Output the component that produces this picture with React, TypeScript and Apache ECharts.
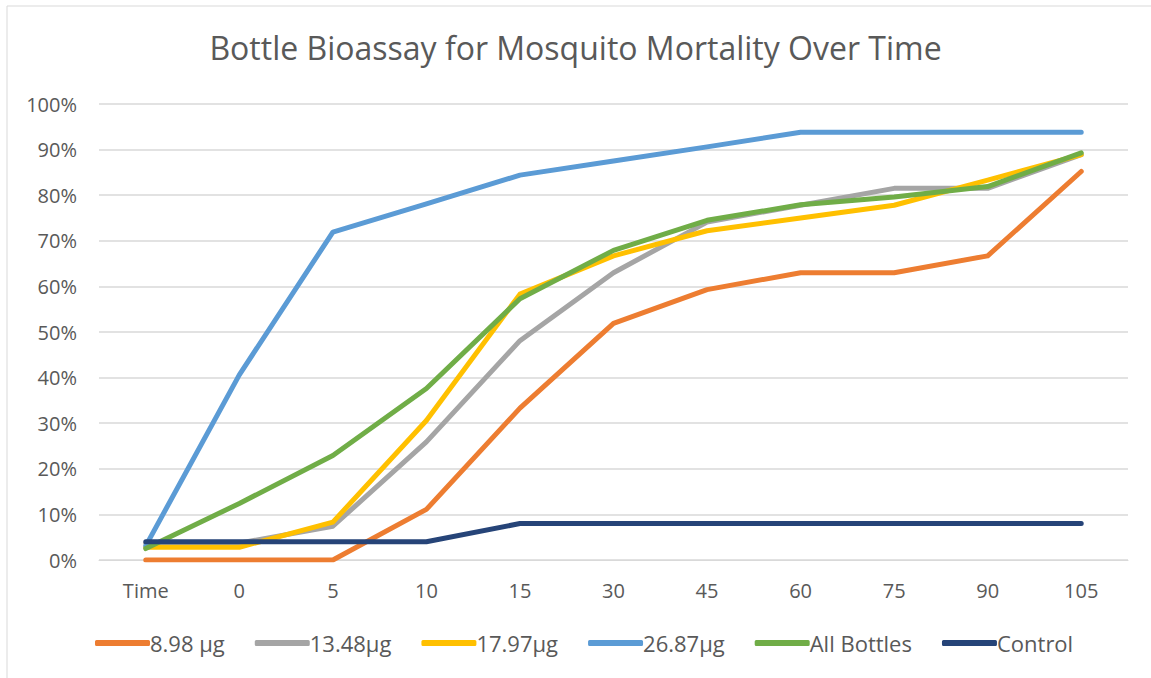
import React, { useEffect, useRef } from "react";
import * as echarts from "echarts";

const categories = ["Time", "0", "5", "10", "15", "30", "45", "60", "75", "90", "105"];
const s898 = [0, 0, 0, 11.1, 33.3, 51.9, 59.3, 63.0, 63.0, 66.7, 85.2];
const s1348 = [3.7, 3.7, 7.4, 25.9, 48.1, 63.0, 74.1, 77.8, 81.5, 81.5, 88.9];
const s1797 = [2.8, 2.8, 8.3, 30.6, 58.3, 66.7, 72.2, 75.0, 77.8, 83.3, 88.9];
const s2687 = [3.1, 40.6, 71.9, 78.1, 84.4, 87.5, 90.6, 93.8, 93.8, 93.8, 93.8];
const sAll = [2.5, 12.4, 22.9, 37.6, 57.3, 67.9, 74.5, 77.9, 79.6, 81.9, 89.3];
const sControl = [4, 4, 4, 4, 8, 8, 8, 8, 8, 8, 8];
const yTicks = [0, 10, 20, 30, 40, 50, 60, 70, 80, 90, 100];

const seriesDefs = [
  { name: "8.98 µg", data: s898, color: "#ED7D31" },
  { name: "13.48µg", data: s1348, color: "#A5A5A5" },
  { name: "17.97µg", data: s1797, color: "#FFC000" },
  { name: "26.87µg", data: s2687, color: "#5B9BD5" },
  { name: "All Bottles", data: sAll, color: "#70AD47" },
  { name: "Control", data: sControl, color: "#264478" },
];

const FONT = "'Open Sans', 'Noto Sans', sans-serif";

export default function App() {
  const ref = useRef<HTMLDivElement>(null);
  useEffect(() => {
    if (!ref.current) return;
    const chart = echarts.init(ref.current, undefined, { renderer: "svg" });
    chart.setOption({
      animation: false,
      backgroundColor: "#ffffff",
      title: {
        text: "Bottle Bioassay for Mosquito Mortality Over Time",
        left: "center",
        top: 26,
        textStyle: { fontFamily: FONT, fontSize: 32, fontWeight: "normal", color: "#595959" },
      },
      graphic: [
        {
          type: "rect",
          shape: { x: 7, y: 6, width: 1160, height: 690 },
          style: { fill: "none", stroke: "#D9D9D9", lineWidth: 1 },
          silent: true,
        },
      ],
      legend: {
        bottom: 19,
        left: 90,
        itemWidth: 55,
        itemHeight: 6,
        itemGap: 30,
        icon: "roundRect",
        textStyle: { fontFamily: FONT, fontSize: 22, color: "#595959", padding: [0, 0, 0, -5] },
        data: seriesDefs.map((s) => s.name),
      },
      grid: { left: 99, right: 23, top: 104, bottom: 118, containLabel: false },
      xAxis: {
        type: "category",
        data: categories,
        boundaryGap: true,
        axisLine: { show: true, lineStyle: { color: "#D9D9D9" } },
        axisTick: { show: false },
        axisLabel: { fontFamily: FONT, fontSize: 20, color: "#595959", margin: 20 },
      },
      yAxis: {
        type: "value",
        min: yTicks[0],
        max: yTicks[yTicks.length - 1],
        interval: 10,
        axisLine: { show: false },
        axisTick: { show: false },
        splitLine: { lineStyle: { color: "#D9D9D9", width: 1.5 } },
        axisLabel: {
          fontFamily: FONT,
          fontSize: 20,
          color: "#595959",
          margin: 22,
          formatter: (v: number) => v + "%",
        },
      },
      series: seriesDefs.map((s) => ({
        name: s.name,
        type: "line",
        data: s.data,
        showSymbol: false,
        symbol: "none",
        lineStyle: { color: s.color, width: 5, cap: "round", join: "round" },
        itemStyle: { color: s.color },
      })),
    });
    return () => chart.dispose();
  }, []);
  return (
    <div
      ref={ref}
      style={{ position: "absolute", left: 0, top: 0, width: 1151, height: 678 }}
    />
  );
}
